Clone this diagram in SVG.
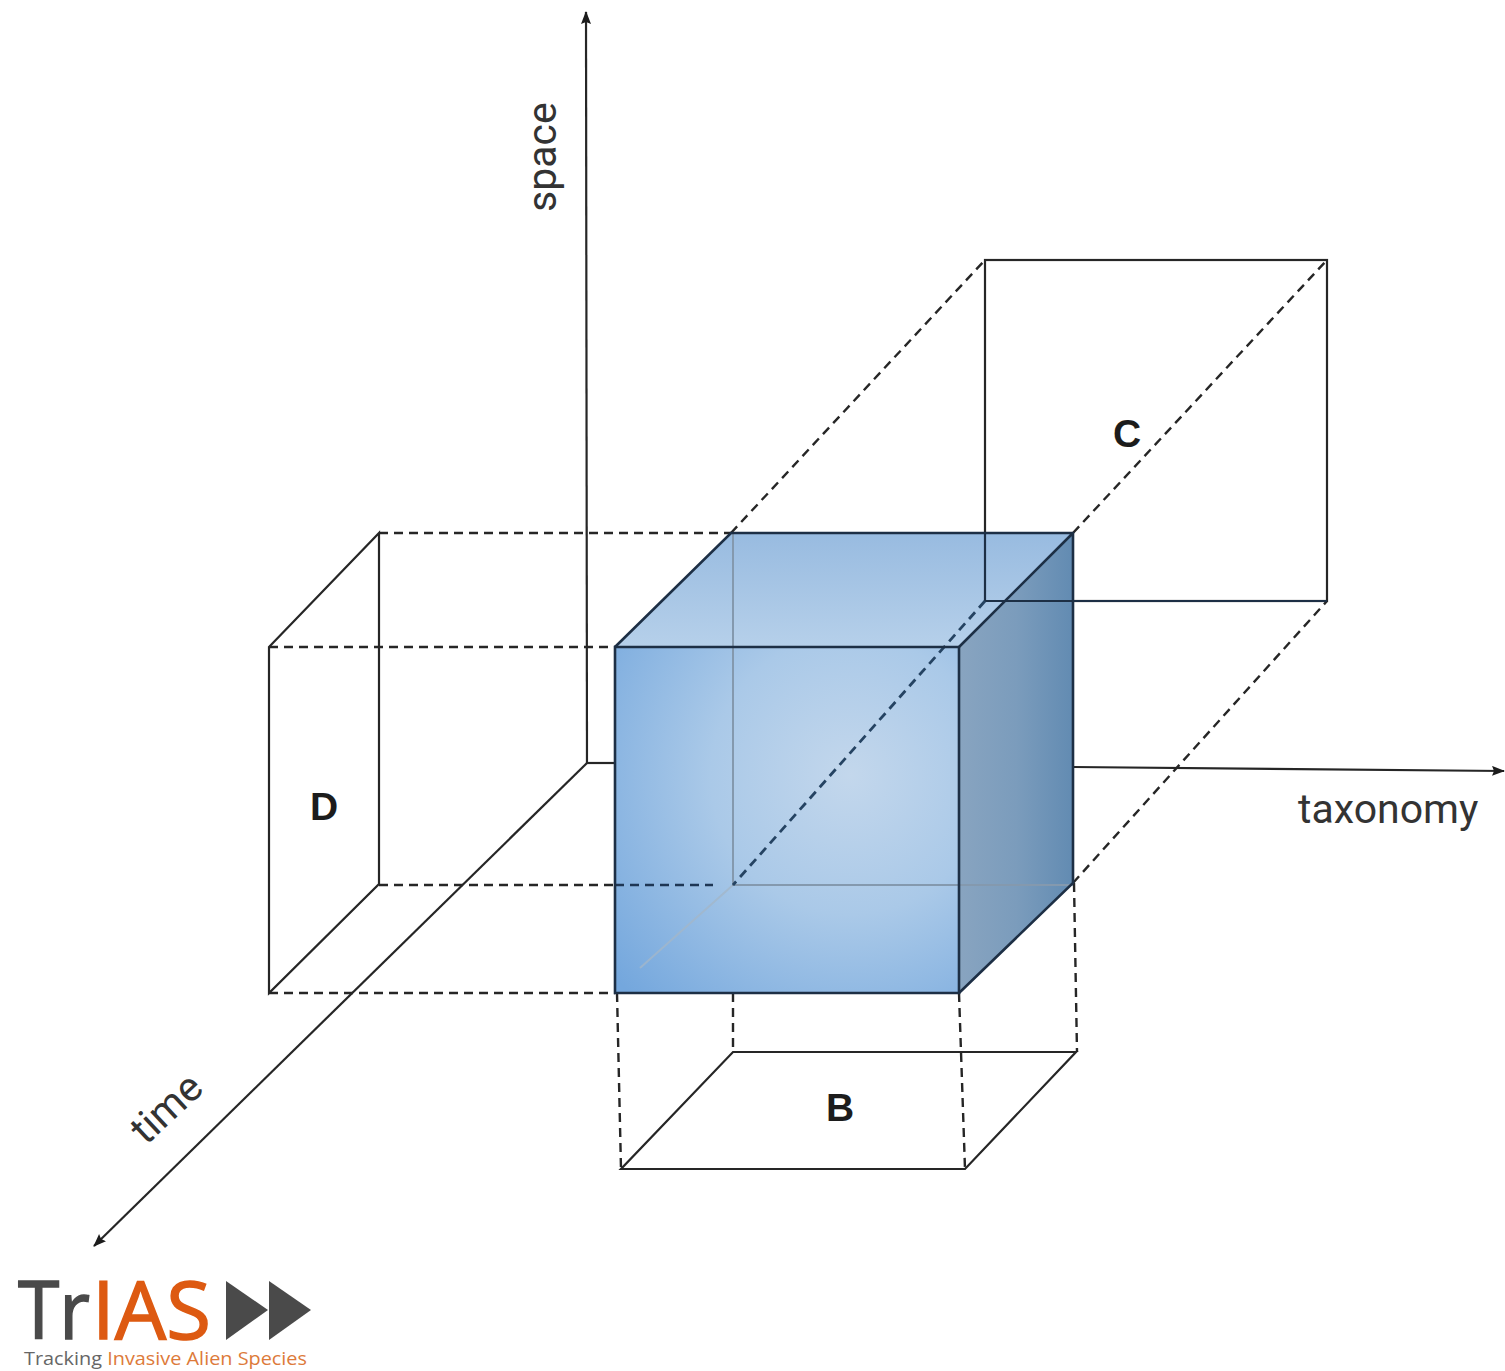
<svg xmlns="http://www.w3.org/2000/svg" width="1505" height="1371" viewBox="0 0 1505 1371">
<style>
.s{fill:none;stroke:#262626;stroke-width:2.2}
.d{fill:none;stroke:#262626;stroke-width:2.4;stroke-dasharray:9 6}
.e{fill:none;stroke:#1d2f45;stroke-width:2.6;stroke-linejoin:miter}
.l{font-family:Roboto,"Liberation Sans",sans-serif;font-size:41px;fill:#333}
.b{font-family:"Liberation Sans",Arial,sans-serif;font-size:39px;font-weight:700;fill:#1c1c1c;text-anchor:middle}
.o{font-family:"Open Sans","Liberation Sans",sans-serif}
</style>
<defs>
<radialGradient id="g1" gradientUnits="userSpaceOnUse" cx="850" cy="775" r="310">
<stop offset="0" stop-color="#c3d7ec"/><stop offset="0.45" stop-color="#aac9e8"/><stop offset="1" stop-color="#74a7dd"/>
</radialGradient>
<linearGradient id="g2" gradientUnits="userSpaceOnUse" x1="960" y1="0" x2="1073" y2="0">
<stop offset="0" stop-color="#88a4c0"/><stop offset="0.5" stop-color="#7b9cbc"/><stop offset="1" stop-color="#628bb2"/>
</linearGradient>
<linearGradient id="g3" gradientUnits="userSpaceOnUse" x1="0" y1="533" x2="0" y2="647">
<stop offset="0" stop-color="#98bbe0"/><stop offset="1" stop-color="#b6d0ea"/>
</linearGradient>
<marker id="a" markerWidth="14" markerHeight="12" refX="12" refY="5" orient="auto" markerUnits="userSpaceOnUse">
<path d="M0 0L13 5L0 10L2 5Z" fill="#1c1c1c"/>
</marker>
</defs>
<g id="connectors">
<path class="s" d="M587 763L586 12" marker-end="url(#a)"/>
<path class="s" d="M587 763L94 1246" marker-end="url(#a)"/>
<path class="s" d="M587 763H616"/>
<path class="s" d="M1073 767L1504 771" marker-end="url(#a)"/>
<path class="d" d="M379 533H731"/>
<path class="d" d="M269 647H615"/>
<path class="d" d="M379 885H733"/>
<path class="d" d="M269 993H615"/>
<path class="d" d="M731 533L985 260"/>
<path class="d" d="M1073 533L1327 260"/>
<path class="d" d="M1073 883L1327 601"/>
<path class="d" d="M617 993L621 1169"/>
<path class="d" d="M733 993V1052"/>
<path class="d" d="M959 993L965 1169"/>
<path class="d" d="M1074 883L1077 1052"/>
</g>
<g id="panel-c"><rect class="s" x="985" y="260" width="342" height="341"/><text class="b" x="1127" y="447">C</text></g>
<g id="panel-d"><path class="s" d="M269 647L379 533V884L269 993Z"/><text class="b" x="324" y="820">D</text></g>
<g id="panel-b"><path class="s" d="M733 1052H1076L965 1169H621Z"/><text class="b" x="840" y="1121">B</text></g>
<g id="cube">
<path d="M615 647L731 533H1073L959 647Z" fill="url(#g3)"/>
<rect x="615" y="647" width="344" height="346" fill="url(#g1)"/>
<path d="M959 647L1073 533V883L959 993Z" fill="url(#g2)"/>
<path d="M640 968L733 885" fill="none" stroke="#a3b6c9" stroke-width="2" opacity="0.8"/>
<path d="M733 533V885H1073" fill="none" stroke="#8499ae" stroke-width="2"/>
<path d="M985 533V601H1327" fill="none" stroke="#1d2f45" stroke-width="2.2"/>
<path d="M985 601L733 885" fill="none" stroke="#254362" stroke-width="2.8" stroke-dasharray="9 6"/>
<path d="M615 885H713" fill="none" stroke="#1e3654" stroke-width="2.4" stroke-dasharray="9 6"/>
<path class="e" d="M615 647H959V993H615Z"/>
<path class="e" d="M615 647L731 533H1073V883L959 993M959 647L1073 533"/>
</g>
<g id="labels">
<text class="l" transform="translate(556 212) rotate(-90)">space</text>
<text class="l" x="1298" y="823">taxonomy</text>
<text class="l" transform="translate(146 1146) rotate(-43)">time</text>
</g>
<g id="logo">
<text class="o" x="18" y="1339" font-size="81" fill="#4a4a4a" stroke="#4a4a4a" stroke-width="1.5" textLength="72" lengthAdjust="spacingAndGlyphs">Tr</text>
<text class="o" x="92" y="1339" font-size="81" fill="#dd5a12" stroke="#dd5a12" stroke-width="1.5" textLength="119" lengthAdjust="spacingAndGlyphs">IAS</text>
<path d="M226 1281L268 1310L226 1340Z" fill="#4a4a4a"/><path d="M269 1281L311 1310L269 1340Z" fill="#4a4a4a"/>
<text class="o" x="24" y="1365" font-size="18" fill="#666" textLength="283" lengthAdjust="spacingAndGlyphs">Tracking <tspan fill="#dd7a3a">Invasive Alien Species</tspan></text>
</g>
</svg>
